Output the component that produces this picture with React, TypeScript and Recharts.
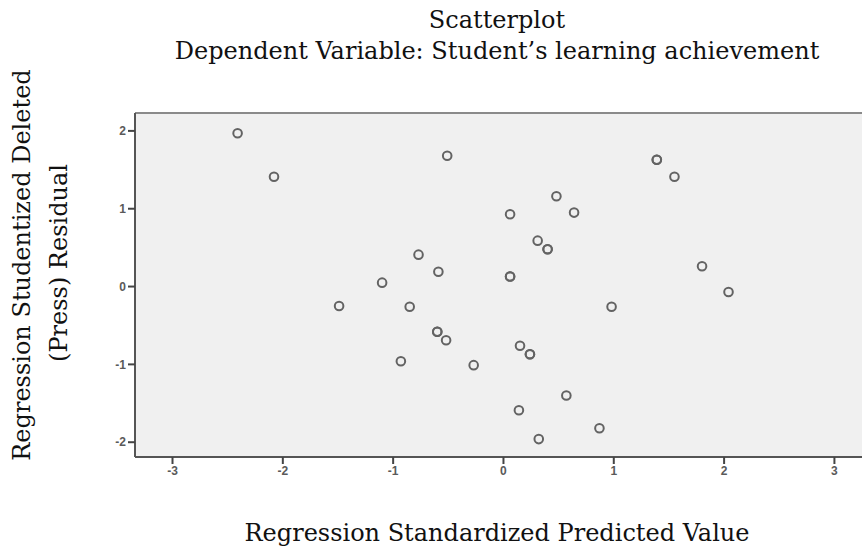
import React from "react";
import {
  ScatterChart,
  Scatter,
  XAxis,
  YAxis,
  CartesianGrid,
} from "recharts";

// Regression standardized predicted value (x) vs studentized deleted residual (y)
const predictedValues = [
  -2.41, -2.08, -1.49, -1.1, -0.93, -0.85, -0.77, -0.6, -0.6, -0.59, -0.52,
  -0.51, -0.27, 0.06, 0.06, 0.06, 0.14, 0.15, 0.24, 0.24, 0.31, 0.32, 0.4, 0.4,
  0.48, 0.57, 0.64, 0.87, 0.98, 1.39, 1.39, 1.55, 1.8, 2.04,
];
const deletedResiduals = [
  1.97, 1.41, -0.25, 0.05, -0.96, -0.26, 0.41, -0.58, -0.58, 0.19, -0.69, 1.68,
  -1.01, 0.93, 0.13, 0.13, -1.59, -0.76, -0.87, -0.87, 0.59, -1.96, 0.48, 0.48,
  1.16, -1.4, 0.95, -1.82, -0.26, 1.63, 1.63, 1.41, 0.26, -0.07,
];
const xTicks = [-3, -2, -1, 0, 1, 2, 3];
const yTicks = [-2, -1, 0, 1, 2];

const titleLine1 = "Scatterplot";
const titleLine2 = "Dependent Variable: Student\u2019s learning achievement";
const xLabel = "Regression Standardized Predicted Value";
const yLabelLine1 = "Regression Studentized Deleted";
const yLabelLine2 = "(Press) Residual";

const points = predictedValues.map((x, i) => ({ x, y: deletedResiduals[i] }));

const W = 862;
const H = 549;
const serif = "'DejaVu Serif', serif";

const HollowCircle = (props: any) => {
  const { cx, cy } = props;
  if (cx == null || cy == null) return null;
  return (
    <circle cx={cx} cy={cy} r={4.3} fill="none" stroke="#636363" strokeWidth={2} />
  );
};

const tickStyle = {
  fontFamily: "'Liberation Sans', Arial, sans-serif",
  fontSize: 12,
  fontWeight: 700,
  fill: "#5a5a5a",
};

export default function App() {
  return (
    <div style={{ position: "absolute", left: 0, top: 0, width: W, height: H, background: "#fff" }}>
      <ScatterChart
        width={W}
        height={H}
        margin={{ top: 103, right: 0, bottom: 62, left: 95 }}
      >
        <CartesianGrid horizontal={false} vertical={false} fill="#f0f0f0" />
        <XAxis
          xAxisId="top"
          orientation="top"
          type="number"
          dataKey="x"
          domain={[-3.34, 3.25]}
          allowDataOverflow
          height={10}
          tick={false}
          tickLine={false}
          axisLine={{ stroke: "#8a8a8a", strokeWidth: 2 }}
        />
        <XAxis
          xAxisId="main"
          type="number"
          dataKey="x"
          domain={[-3.34, 3.25]}
          ticks={xTicks}
          allowDataOverflow
          height={30}
          interval={0}
          tickSize={7}
          tickMargin={2}
          tick={tickStyle}
          tickLine={{ stroke: "#444", strokeWidth: 2 }}
          axisLine={{ stroke: "#555", strokeWidth: 2 }}
        />
        <YAxis
          type="number"
          dataKey="y"
          domain={[-2.19, 2.23]}
          ticks={yTicks}
          allowDataOverflow
          width={40}
          interval={0}
          tickSize={7}
          tickMargin={2}
          tick={tickStyle}
          tickLine={{ stroke: "#444", strokeWidth: 2 }}
          axisLine={{ stroke: "#555", strokeWidth: 2 }}
        />
        <Scatter
          data={points}
          xAxisId="main"
          shape={<HollowCircle />}
          isAnimationActive={false}
        />
      </ScatterChart>
      <svg
        width={W}
        height={H}
        style={{ position: "absolute", left: 0, top: 0, pointerEvents: "none" }}
      >
        <g fontFamily={serif} fill="#111" fontSize={24}>
          <text x={497} y={28} textAnchor="middle">{titleLine1}</text>
          <text x={497} y={59} textAnchor="middle">{titleLine2}</text>
          <text x={497} y={541} textAnchor="middle">{xLabel}</text>
          <text x={30} y={265} textAnchor="middle" transform="rotate(-90 30 265)">{yLabelLine1}</text>
          <text x={67} y={263} textAnchor="middle" transform="rotate(-90 67 263)">{yLabelLine2}</text>
        </g>
      </svg>
    </div>
  );
}
